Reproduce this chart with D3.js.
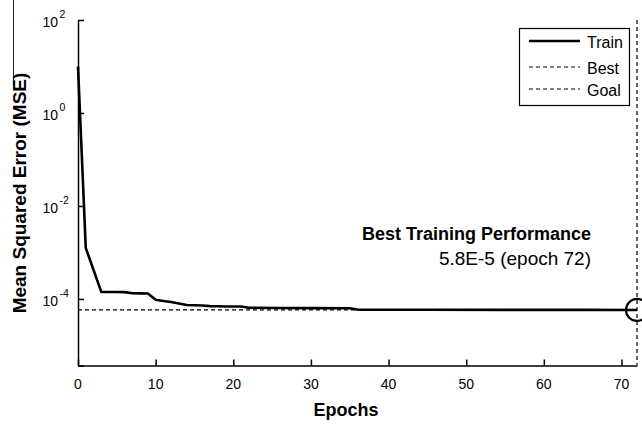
<!DOCTYPE html>
<html>
<head>
<meta charset="utf-8">
<script src="https://cdn.jsdelivr.net/npm/d3@7"></script>
<style>
  html, body { margin: 0; padding: 0; background: #fff; }
  svg { display: block; font-family: "Liberation Sans", Arial, Helvetica, sans-serif; }
</style>
</head>
<body>
<svg id="chart" width="642" height="426"></svg>
<script>
// Training record: mean squared error per epoch
const epochs = [
  0, 1, 2, 3, 4, 5, 6, 7, 8, 9, 10, 11, 12, 13, 14, 15, 16, 17, 18, 19, 20, 21, 22,
  26, 30, 35, 36, 45, 55, 65, 72
];
const trainMSE = [
  10, 1.25e-3, 4.2e-4, 1.42e-4, 1.41e-4, 1.41e-4, 1.40e-4, 1.33e-4, 1.32e-4, 1.31e-4,
  9.6e-5, 9.0e-5, 8.6e-5, 8.0e-5, 7.4e-5, 7.3e-5, 7.2e-5, 7.0e-5, 6.95e-5, 6.9e-5, 6.9e-5, 6.85e-5,
  6.45e-5, 6.4e-5, 6.35e-5, 6.3e-5, 5.9e-5, 5.86e-5, 5.83e-5, 5.81e-5, 5.8e-5
];
const bestEpoch = 72;
const bestMSE = 5.8e-5;
const goalMSE = 0;

// Axis limits and ticks
const xDomain = [0, 72];
const yDomain = [3.7e-6, 1e2];
const xTicks = [0, 10, 20, 30, 40, 50, 60, 70];
const yTickExponents = [2, 0, -2, -4];

const legendLabels = ["Train", "Best", "Goal"];
const titleLines = ["Best Training Performance", "5.8E-5 (epoch 72)"];
const xLabel = "Epochs";
const yLabel = "Mean Squared Error (MSE)";

const svg = d3.select("#chart");
const plot = { left: 78, right: 637, top: 20, bottom: 365.5 };

const x = d3.scaleLinear().domain(xDomain).range([plot.left, plot.right]);
const y = d3.scaleLog().domain(yDomain).range([plot.bottom, plot.top]);

// thin frame edge at the upper left
svg.append("line")
  .attr("x1", 13.5).attr("x2", 13.5).attr("y1", 0).attr("y2", 85)
  .attr("stroke", "#222").attr("stroke-width", 1);

// Best: horizontal at best value, vertical at best epoch
const dash = "4,3";
svg.append("line")
  .attr("x1", x(xDomain[0])).attr("x2", x(bestEpoch))
  .attr("y1", y(bestMSE)).attr("y2", y(bestMSE))
  .attr("stroke", "#000").attr("stroke-width", 1.2).attr("stroke-dasharray", dash);
svg.append("line")
  .attr("x1", x(bestEpoch)).attr("x2", x(bestEpoch))
  .attr("y1", y(yDomain[1])).attr("y2", y(yDomain[0]))
  .attr("stroke", "#000").attr("stroke-width", 1.2).attr("stroke-dasharray", dash);

// Goal line (only drawn if visible on the log axis)
if (goalMSE > yDomain[0]) {
  svg.append("line")
    .attr("x1", x(xDomain[0])).attr("x2", x(xDomain[1]))
    .attr("y1", y(goalMSE)).attr("y2", y(goalMSE))
    .attr("stroke", "#000").attr("stroke-width", 1.2).attr("stroke-dasharray", dash);
}

// Train curve
const line = d3.line().x((d, i) => x(epochs[i])).y(d => y(d));
svg.append("path")
  .datum(trainMSE)
  .attr("d", line)
  .attr("fill", "none")
  .attr("stroke", "#000")
  .attr("stroke-width", 2.6)
  .attr("stroke-linejoin", "round");

// Best marker
svg.append("circle")
  .attr("cx", x(bestEpoch)).attr("cy", y(bestMSE)).attr("r", 11)
  .attr("fill", "none").attr("stroke", "#000").attr("stroke-width", 2.2);

// Axes (ticks pointing inward)
const xAxis = d3.axisBottom(x).tickValues(xTicks).tickSizeInner(-6).tickSizeOuter(0).tickFormat("");
const gx = svg.append("g").attr("transform", `translate(0,${plot.bottom})`).call(xAxis);
const yTickVals = yTickExponents.map(e => Math.pow(10, e)).concat([yDomain[0]]);
const yAxis = d3.axisLeft(y).tickValues(yTickVals).tickSizeInner(-6).tickSizeOuter(0).tickFormat("");
const gy = svg.append("g").attr("transform", `translate(${plot.left},0)`).call(yAxis);
[gx, gy].forEach(g => {
  g.selectAll("path.domain").attr("stroke", "#000").attr("stroke-width", 1.5);
  g.selectAll(".tick line").attr("stroke", "#000").attr("stroke-width", 1.5);
});

// x tick labels
svg.append("g").selectAll("text")
  .data(xTicks).join("text")
  .attr("x", d => x(d)).attr("y", plot.bottom + 23)
  .attr("text-anchor", "middle")
  .attr("font-size", 14)
  .text(d => d);

// y tick labels: 10 with superscript exponent
const yl = svg.append("g").selectAll("g").data(yTickExponents).join("g")
  .attr("transform", e => `translate(0,${y(Math.pow(10, e))})`);
yl.append("text").attr("x", 58).attr("y", 7).attr("text-anchor", "end")
  .attr("font-size", 14).text("10");
yl.append("text").attr("x", 59.5).attr("y", -2).attr("text-anchor", "start")
  .attr("font-size", 10.5).text(e => e);

// Axis labels
svg.append("text")
  .attr("x", 346).attr("y", 416)
  .attr("text-anchor", "middle").attr("font-size", 18).attr("font-weight", "bold")
  .text(xLabel);
svg.append("text")
  .attr("transform", "translate(26,193) rotate(-90)")
  .attr("text-anchor", "middle").attr("font-size", 19).attr("font-weight", "bold")
  .text(yLabel);

// Performance annotation
svg.append("text")
  .attr("x", 591).attr("y", 240).attr("text-anchor", "end")
  .attr("font-size", 18).attr("font-weight", "bold")
  .text(titleLines[0]);
svg.append("text")
  .attr("x", 591).attr("y", 265).attr("text-anchor", "end")
  .attr("font-size", 19)
  .text(titleLines[1]);

// Legend
const legend = svg.append("g");
legend.append("rect")
  .attr("x", 519.5).attr("y", 28.5).attr("width", 110).attr("height", 77)
  .attr("fill", "#fff").attr("stroke", "#000").attr("stroke-width", 1.2);
const legendY = [41, 67, 89];
legendLabels.forEach((label, i) => {
  legend.append("line")
    .attr("x1", 529).attr("x2", 580).attr("y1", legendY[i]).attr("y2", legendY[i])
    .attr("stroke", "#000")
    .attr("stroke-width", i === 0 ? 2.6 : 1.2)
    .attr("stroke-dasharray", i === 0 ? null : dash);
  legend.append("text")
    .attr("x", 587).attr("y", legendY[i] + 7)
    .attr("text-anchor", "start").attr("font-size", 16)
    .text(label);
});
</script>
</body>
</html>
